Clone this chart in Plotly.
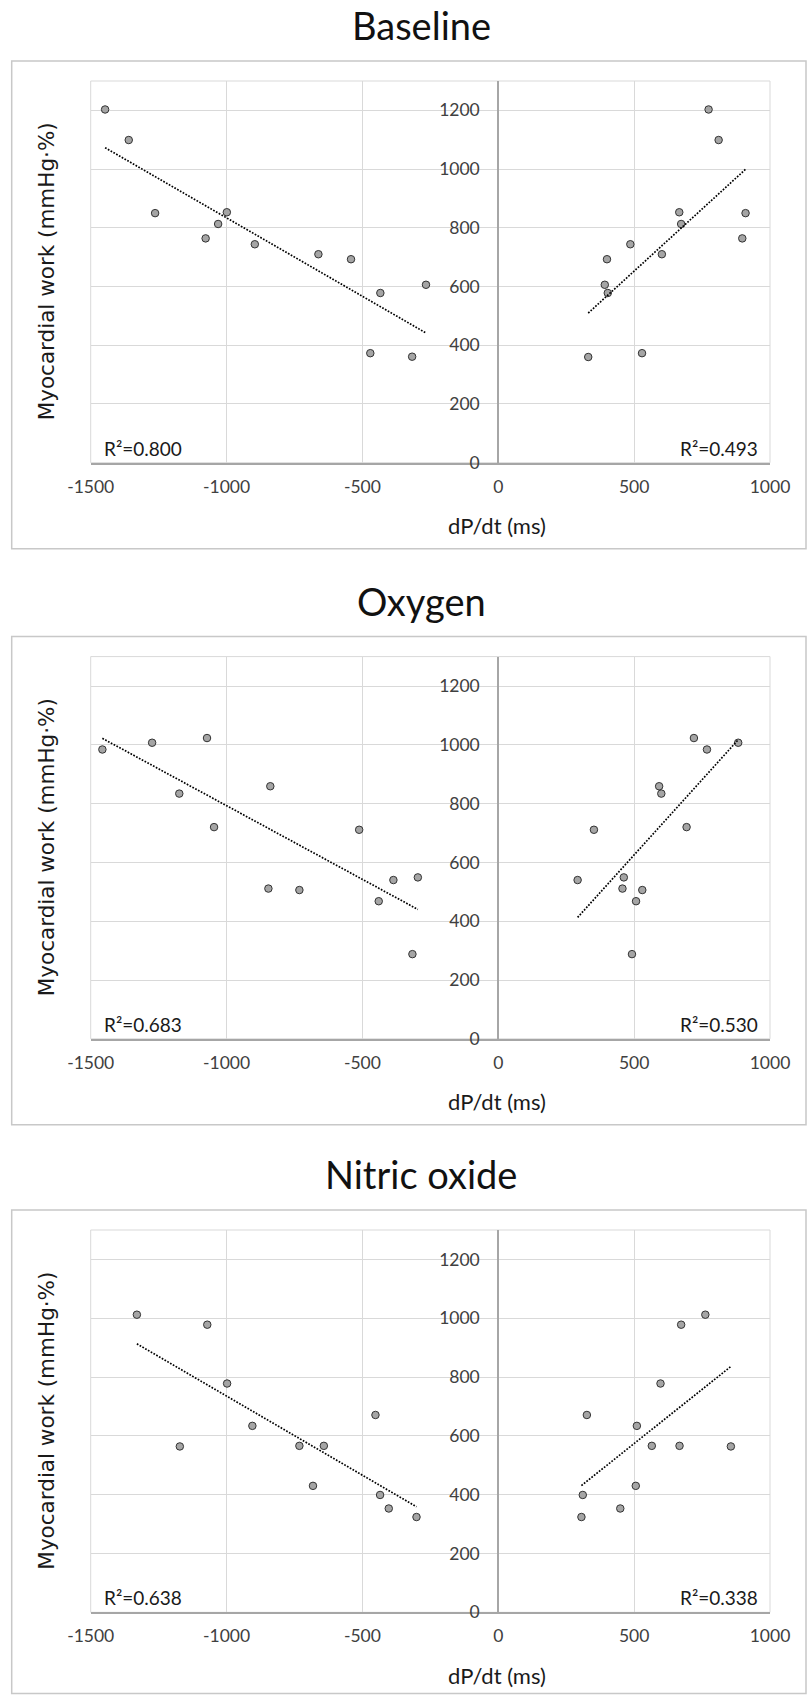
import numpy as np
import plotly.graph_objects as go

# ---------------- data ----------------
panel_titles = ["Baseline", "Oxygen", "Nitric oxide"]

baseline_neg_x = [-1447, -1360, -1263, -999, -1031, -1077, -896, -662, -542, -434, -471, -317, -266]
baseline_neg_y = [1203, 1099, 850, 853, 813, 764, 744, 710, 693, 578, 373, 361, 606]
baseline_pos_x = [774, 811, 666, 910, 673, 898, 486, 602, 400, 392, 403, 331, 529]
baseline_pos_y = [1203, 1099, 853, 850, 813, 764, 744, 710, 693, 606, 578, 360, 373]

oxygen_neg_x = [-1457, -1274, -1072, -1174, -1046, -839, -846, -732, -512, -386, -440, -316, -296]
oxygen_neg_y = [984, 1007, 1023, 834, 720, 859, 511, 506, 711, 540, 468, 288, 549]
oxygen_pos_x = [720, 768, 883, 592, 600, 693, 352, 292, 462, 457, 530, 507, 492]
oxygen_pos_y = [1023, 984, 1007, 859, 834, 720, 711, 540, 549, 511, 506, 468, 288]

nitric_neg_x = [-1330, -1071, -998, -1172, -905, -732, -642, -682, -452, -435, -403, -301]
nitric_neg_y = [1012, 978, 778, 564, 634, 566, 566, 430, 671, 399, 353, 324]
nitric_pos_x = [762, 673, 597, 326, 510, 565, 667, 856, 506, 311, 449, 306]
nitric_pos_y = [1012, 978, 778, 671, 634, 566, 566, 564, 430, 399, 353, 324]

r2_neg_labels = ["R\u00b2=0.800", "R\u00b2=0.683", "R\u00b2=0.638"]
r2_pos_labels = ["R\u00b2=0.493", "R\u00b2=0.530", "R\u00b2=0.338"]

x_tickvals = [-1500, -1000, -500, 0, 500, 1000]
x_ticktext = ["-1500", "-1000", "-500", "0", "500", "1000"]
y_tickvals = [0, 200, 400, 600, 800, 1000, 1200]
y_ticktext = ["0", "200", "400", "600", "800", "1000", "1200"]

x_title = "dP/dt (ms)"
y_title = "Myocardial work (mmHg\u00b7%)"

panels = [
    (baseline_neg_x, baseline_neg_y, baseline_pos_x, baseline_pos_y),
    (oxygen_neg_x, oxygen_neg_y, oxygen_pos_x, oxygen_pos_y),
    (nitric_neg_x, nitric_neg_y, nitric_pos_x, nitric_pos_y),
]

# ---------------- layout geometry (pixels) ----------------
W, H = 808, 1695
XR = [-1500, 1000]
YR = [0, 1300]
plot_left, plot_right = 90.7, 770.0
plot_tops = [81.0, 656.6, 1230.0]
plot_bottoms = [462.7, 1038.8, 1612.3]

def px_x(p):
    return p / W

def px_y(p):
    return 1 - p / H

TICK_FONT = dict(family="Lato", size=17.5, color="#404040")
GRID = "#D9D9D9"
AXLINE = "#A6A6A6"

fig = go.Figure()
shapes = []
annotations = []

for i, (nx, ny, qx, qy) in enumerate(panels):
    k = "" if i == 0 else str(i + 1)
    xa, ya = "x" + k, "y" + k
    top, bot = plot_tops[i], plot_bottoms[i]

    marker = dict(size=7.5, color="#A5A5A5", line=dict(color="#333333", width=1))
    for xs, ys in ((nx, ny), (qx, qy)):
        xs = np.array(xs, dtype=float)
        ys = np.array(ys, dtype=float)
        fig.add_trace(go.Scatter(x=xs, y=ys, mode="markers", marker=marker,
                                 xaxis=xa, yaxis=ya, showlegend=False, hoverinfo="x+y"))
        slope, intercept = np.polyfit(xs, ys, 1)
        lx = np.array([xs.min(), xs.max()])
        fig.add_trace(go.Scatter(x=lx, y=slope * lx + intercept, mode="lines",
                                 line=dict(color="#000000", width=1.7, dash="1.7px,1.5px"),
                                 xaxis=xa, yaxis=ya, showlegend=False, hoverinfo="skip"))

    xdom = [px_x(plot_left), px_x(plot_right)]
    ydom = [px_y(bot), px_y(top)]
    zero_pos = xdom[0] + (0 - XR[0]) / (XR[1] - XR[0]) * (xdom[1] - xdom[0])

    fig.update_layout(**{
        "xaxis" + k: dict(domain=xdom, range=XR, anchor=ya, tickvals=x_tickvals,
                          ticktext=x_ticktext, showgrid=True, gridcolor=GRID, gridwidth=1,
                          zeroline=False, showline=True, linecolor=AXLINE, linewidth=2,
                          ticks="", tickfont=TICK_FONT, ticklabelstandoff=7,
                          automargin=False, fixedrange=True),
        "yaxis" + k: dict(domain=ydom, range=YR, anchor="free", position=zero_pos,
                          tickvals=y_tickvals, ticktext=y_ticktext, showgrid=True,
                          gridcolor=GRID, gridwidth=1, zeroline=False, showline=True,
                          linecolor=AXLINE, linewidth=2, ticks="", tickfont=TICK_FONT,
                          ticklabelstandoff=14, automargin=False, fixedrange=True),
    })

    # plot-area border
    shapes.append(dict(type="rect", xref=xa + " domain", yref=ya + " domain",
                       x0=0, x1=1, y0=0, y1=1, line=dict(color=GRID, width=1), layer="below"))
    # outer chart box
    box_bot = min(bot + 86, H - 1.5)
    shapes.append(dict(type="rect", xref="paper", yref="paper",
                       x0=px_x(11.7), x1=px_x(806.0), y0=px_y(box_bot), y1=px_y(top - 20),
                       line=dict(color="#C8C8C8", width=1.5)))

    # panel title
    annotations.append(dict(text=panel_titles[i], xref="paper", yref="paper",
                            x=px_x(421), y=px_y(top - 56), xanchor="center", yanchor="middle",
                            showarrow=False, font=dict(family="Lato", size=38, color="#111111")))
    # y-axis title
    annotations.append(dict(text=y_title, xref="paper", yref="paper", textangle=-90,
                            x=px_x(46.5), y=px_y((top + bot) / 2), xanchor="center",
                            yanchor="middle", showarrow=False,
                            font=dict(family="DejaVu Sans", size=21.5, color="#1a1a1a")))
    # x-axis title
    annotations.append(dict(text=x_title, xref="paper", yref="paper",
                            x=px_x(497), y=px_y(bot + 63), xanchor="center", yanchor="middle",
                            showarrow=False, font=dict(family="Lato", size=22, color="#1a1a1a")))
    # R^2 labels
    annotations.append(dict(text=r2_neg_labels[i], xref=xa + " domain", yref=ya + " domain",
                            x=(101.7 - plot_left) / (plot_right - plot_left),
                            y=(14.5) / (bot - top), xanchor="left", yanchor="middle",
                            showarrow=False, font=dict(family="Lato", size=19, color="#1a1a1a")))
    annotations.append(dict(text=r2_pos_labels[i], xref=xa + " domain", yref=ya + " domain",
                            x=(760 - plot_left) / (plot_right - plot_left),
                            y=(14.5) / (bot - top), xanchor="right", yanchor="middle",
                            showarrow=False, font=dict(family="Lato", size=19, color="#1a1a1a")))

fig.update_layout(template="none", width=W, height=H, margin=dict(l=0, r=0, t=0, b=0, pad=0),
                  paper_bgcolor="white", plot_bgcolor="white",
                  shapes=shapes, annotations=annotations, showlegend=False)

fig.write_html("out.html")
